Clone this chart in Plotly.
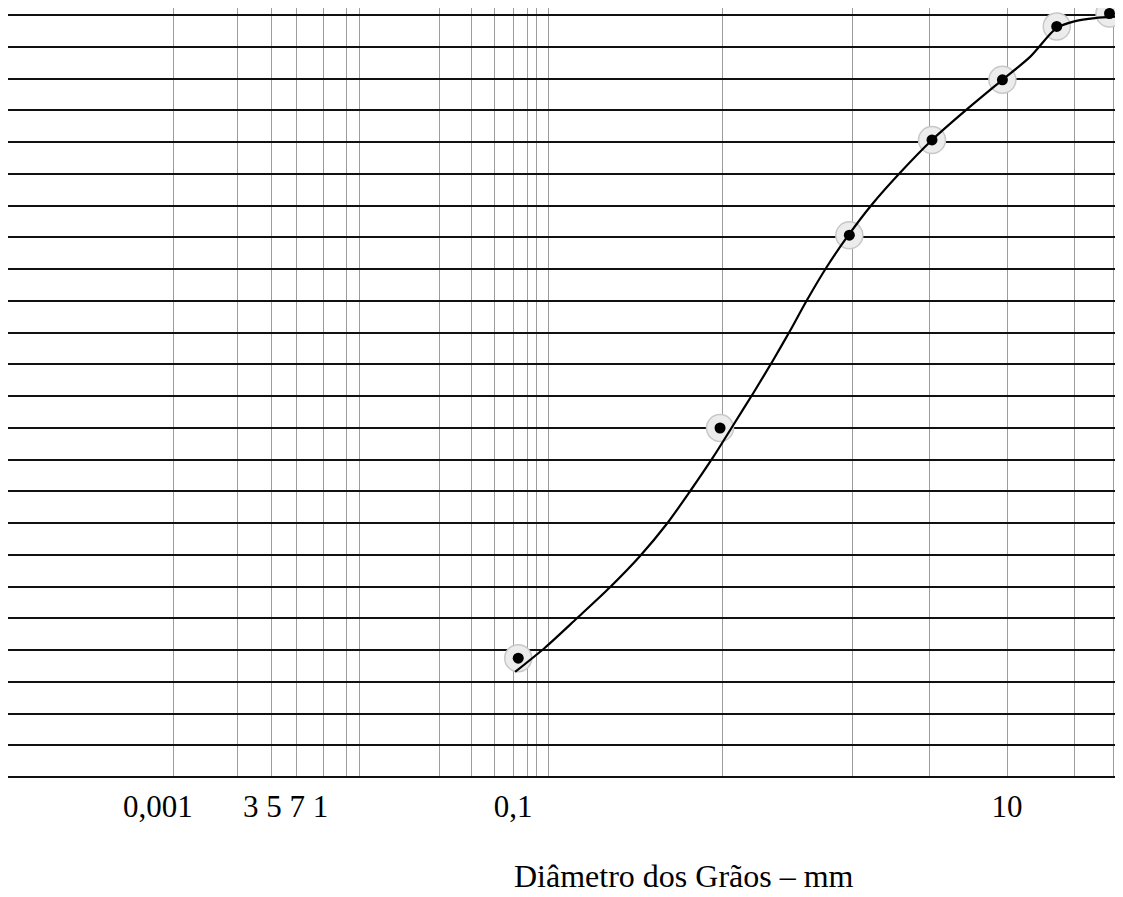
import plotly.graph_objects as go

# ---- data ----
# sieve points: grain diameter (mm) and percent passing
diam_pts = [0.105, 0.689, 2.30, 4.97, 9.58, 15.9, 26.0]
pass_pts = [15.6, 45.8, 71.1, 83.6, 91.5, 98.5, 100.2]

# smooth hand-drawn gradation curve
diam_curve = [0.102, 0.135, 0.181, 0.247, 0.327, 0.419, 0.521, 0.647, 0.780,
              0.940, 1.13, 1.32, 1.55, 1.86, 2.28, 2.85, 3.69, 4.97, 6.81,
              9.58, 12.4, 15.9, 18.9, 22.7, 27.9]
pass_curve = [13.8, 17.0, 20.8, 24.9, 29.0, 33.2, 37.5, 42.0, 46.2,
              50.4, 54.7, 58.5, 62.6, 66.9, 71.1, 75.2, 79.3, 83.6, 87.5,
              91.5, 94.5, 98.3, 99.2, 99.6, 99.8]

# vertical grid lines of the log paper (mm)
grid_diam = [0.00424, 0.00765, 0.0105, 0.0133, 0.0171, 0.0212, 0.0240,
             0.0506, 0.0681, 0.0840, 0.100, 0.114, 0.125, 0.139,
             0.706, 2.36, 4.86, 10.0, 18.8, 26.9]

# axis labels as printed
tick_pos = [0.00365, 0.0120, 0.1, 10]
tick_text = ["0,001", "3 5 7 1", "0,1", "10"]

x_title = "Diâmetro dos Grãos – mm"
n_bands = 24  # horizontal rulings divide 0–100 % into 24 bands

# ---- figure ----
x_range = [-3.0445, 1.4696]
y_range = [0, 100.92]
font_family = "Liberation Serif, Times New Roman, serif"

fig = go.Figure()

fig.add_trace(go.Scatter(
    x=diam_pts, y=pass_pts, mode="markers", xaxis="x", yaxis="y",
    marker=dict(size=27, color="#ececec", line=dict(color="#c8c8c8", width=1.5)),
    cliponaxis=False, hoverinfo="skip", showlegend=False))

fig.add_trace(go.Scatter(
    x=diam_curve, y=pass_curve, mode="lines", xaxis="x", yaxis="y",
    line=dict(color="black", width=2.2, shape="spline", smoothing=0.8),
    cliponaxis=False, showlegend=False))

fig.add_trace(go.Scatter(
    x=diam_pts, y=pass_pts, mode="markers", xaxis="x", yaxis="y",
    marker=dict(size=11, color="black"),
    cliponaxis=False, showlegend=False))

# invisible trace to activate the label axis
fig.add_trace(go.Scatter(
    x=[tick_pos[0]], y=[0], mode="markers", xaxis="x2", yaxis="y",
    marker=dict(size=1, opacity=0), hoverinfo="skip", showlegend=False))

fig.update_layout(
    width=1115, height=889,
    margin=dict(l=0, r=0, t=0, b=120),
    paper_bgcolor="white", plot_bgcolor="white",
    font=dict(family=font_family, color="black"),
    xaxis=dict(
        type="log", range=x_range,
        tickmode="array", tickvals=grid_diam, showticklabels=False,
        showgrid=True, gridcolor="#9c9c9c", gridwidth=1.4,
        zeroline=False, showline=False, ticks=""),
    xaxis2=dict(
        type="log", range=x_range, overlaying="x", anchor="y", side="bottom",
        tickmode="array", tickvals=tick_pos, ticktext=tick_text,
        tickfont=dict(size=31, family=font_family, color="black"),
        ticklabelstandoff=8,
        showgrid=False, zeroline=False, showline=False, ticks=""),
    yaxis=dict(
        range=y_range, tick0=0, dtick=100 / n_bands,
        showticklabels=False, ticks="",
        showgrid=True, gridcolor="#111111", gridwidth=2,
        zeroline=True, zerolinecolor="#111111", zerolinewidth=2,
        showline=False),
    annotations=[dict(
        text=x_title, xref="paper", yref="paper",
        x=0.6063, y=-0.1287, xanchor="center", yanchor="middle",
        showarrow=False, font=dict(size=32, family=font_family, color="black"))],
)

fig.write_html("out.html")
